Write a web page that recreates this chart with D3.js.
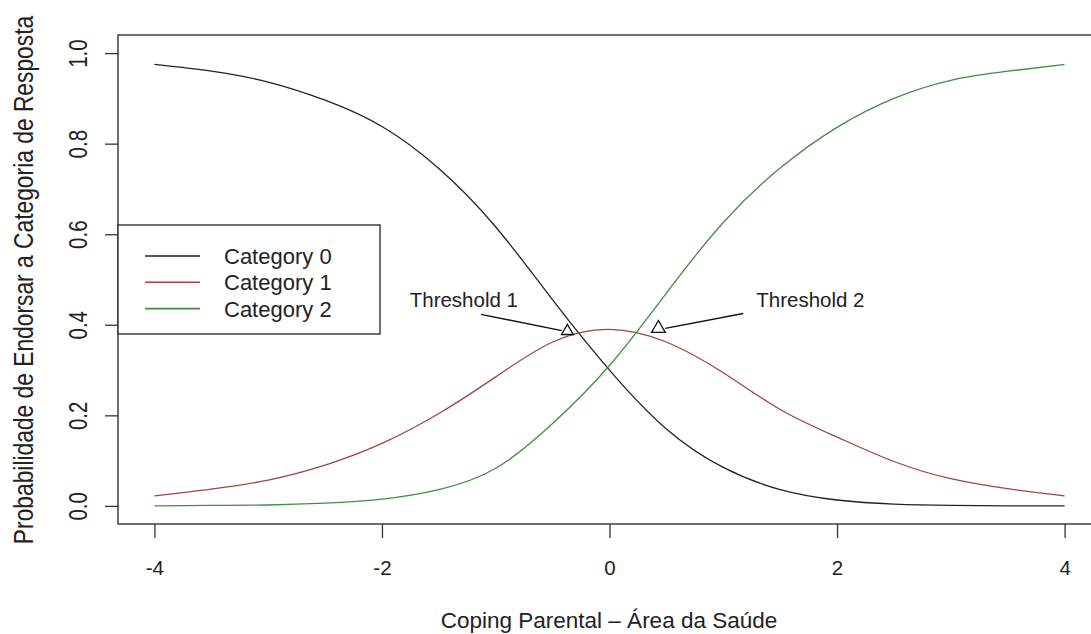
<!DOCTYPE html>
<html lang="pt">
<head>
<meta charset="UTF-8">
<title>Curvas de categoria</title>
<script src="https://d3js.org/d3.v7.min.js"></script>
<style>
    body { margin: 0; padding: 0; background: #fff; }
    svg { display: block; font-family: 'Liberation Sans', Arial, sans-serif; }
    .frame { fill: none; stroke: #333; stroke-width: 1.4px; }
    .curve { fill: none; stroke-width: 1.3px; }
    .tick line { stroke: #333; stroke-width: 1.3px; }
    .tick text { fill: #222; font-size: 20.5px; }
</style>
</head>
<body>
<svg width="1091" height="634"></svg>
<script>
// valores (theta de -4 a 4, passo 0.5)
var theta = [-4, -3.5, -3, -2.5, -2, -1.5, -1, -0.5, 0, 0.5, 1, 1.5, 2, 2.5, 3, 3.5, 4];
var cat0 = [0.975, 0.960, 0.936, 0.896, 0.838, 0.745, 0.616, 0.455, 0.300, 0.170, 0.085, 0.036, 0.013, 0.004, 0.001, 0.000, 0.000];
var cat1 = [0.022, 0.037, 0.057, 0.090, 0.138, 0.204, 0.285, 0.362, 0.390, 0.362, 0.294, 0.213, 0.152, 0.098, 0.060, 0.038, 0.022];
var cat2 = [0.000, 0.001, 0.002, 0.006, 0.015, 0.036, 0.083, 0.182, 0.310, 0.470, 0.626, 0.746, 0.836, 0.900, 0.940, 0.960, 0.975];

var seriesNames = ["Category 0", "Category 1", "Category 2"];
var seriesColors = ["#222222", "#a04444", "#3f8f3f"];
var xTicks = [-4, -2, 0, 2, 4];
var yTicks = [0, 0.2, 0.4, 0.6, 0.8, 1.0];

// anotações dos limiares (em unidades dos dados)
var thrLabels = ["Threshold 1", "Threshold 2"];
var thrText = [[-1.756, 0.44], [1.29, 0.44]];
var thrLineFrom = [[-1.13, 0.423], [1.176, 0.425]];
var thrLineTo = [[-0.42, 0.387], [0.49, 0.392]];
var thrMarker = [[-0.37, 0.386], [0.43, 0.392]];

var svg = d3.select("svg");

var x = d3.scaleLinear().domain([-4.32, 4.32]).range([118, 1101]);
var y = d3.scaleLinear().domain([-0.04, 1.04]).range([524, 35]);

// curvas
var series = [cat0, cat1, cat2];
var line = d3.line()
    .x(function(d) { return x(d[0]); })
    .y(function(d) { return y(d[1]); })
    .curve(d3.curveNatural);

series.forEach(function(vals, i) {
    svg.append("path")
        .attr("class", "curve")
        .attr("stroke", seriesColors[i])
        .attr("d", line(theta.map(function(t, j) { return [t, vals[j]]; })));
});

// eixos
var xAxis = svg.append("g")
    .attr("transform", "translate(0,524)")
    .call(d3.axisBottom(x).tickValues(xTicks).tickSize(14).tickPadding(0)
        .tickFormat(function(d) { return String(d); }));
xAxis.select(".domain").remove();
xAxis.selectAll(".tick text").attr("dy", null).attr("y", 51);

var yAxis = svg.append("g")
    .attr("transform", "translate(118,0)")
    .call(d3.axisLeft(y).tickValues(yTicks).tickSize(13).tickFormat(function(d) { return d.toFixed(1); }));
yAxis.select(".domain").remove();
yAxis.selectAll(".tick text")
    .attr("x", null).attr("dy", null)
    .attr("text-anchor", "middle")
    .attr("transform", "translate(-31,0) rotate(-90) scale(1,1.25)");

// moldura
svg.append("rect").attr("class", "frame")
    .attr("x", 118).attr("y", 35).attr("width", 983).attr("height", 489);

// títulos
svg.append("text")
    .attr("x", 609).attr("y", 628)
    .attr("text-anchor", "middle")
    .style("font-size", "22.5px").style("fill", "#222")
    .text("Coping Parental – Área da Saúde");

svg.append("text")
    .attr("transform", "translate(33,280) rotate(-90) scale(1,1.22)")
    .attr("text-anchor", "middle")
    .style("font-size", "22.8px").style("fill", "#222")
    .text("Probabilidade de Endorsar a Categoria de Resposta");

// limiares
thrLabels.forEach(function(lab, i) {
    svg.append("line")
        .attr("x1", x(thrLineFrom[i][0])).attr("y1", y(thrLineFrom[i][1]))
        .attr("x2", x(thrLineTo[i][0])).attr("y2", y(thrLineTo[i][1]))
        .attr("stroke", "#111").attr("stroke-width", 1.4);
    svg.append("path")
        .attr("d", d3.symbol(d3.symbolTriangle, i === 0 ? 60 : 82)())
        .attr("transform", "translate(" + x(thrMarker[i][0]) + "," + y(thrMarker[i][1]) + ")")
        .attr("fill", "#fff").attr("stroke", "#111").attr("stroke-width", 1.3);
    svg.append("text")
        .attr("x", x(thrText[i][0])).attr("y", y(thrText[i][1]))
        .style("font-size", "20.5px").style("fill", "#222")
        .text(lab);
});

// legenda
var legend = svg.append("g");
legend.append("rect")
    .attr("x", 118).attr("y", 225).attr("width", 262).attr("height", 109)
    .attr("fill", "#fff").attr("stroke", "#333").attr("stroke-width", 1.4);
seriesNames.forEach(function(name, i) {
    var yy = 256 + i * 26.3;
    legend.append("line")
        .attr("x1", 145).attr("x2", 200).attr("y1", yy).attr("y2", yy)
        .attr("stroke", seriesColors[i]).attr("stroke-width", 1.6);
    legend.append("text")
        .attr("x", 224).attr("y", yy + 8)
        .style("font-size", "22px").style("fill", "#222")
        .text(name);
});
</script>
</body>
</html>
